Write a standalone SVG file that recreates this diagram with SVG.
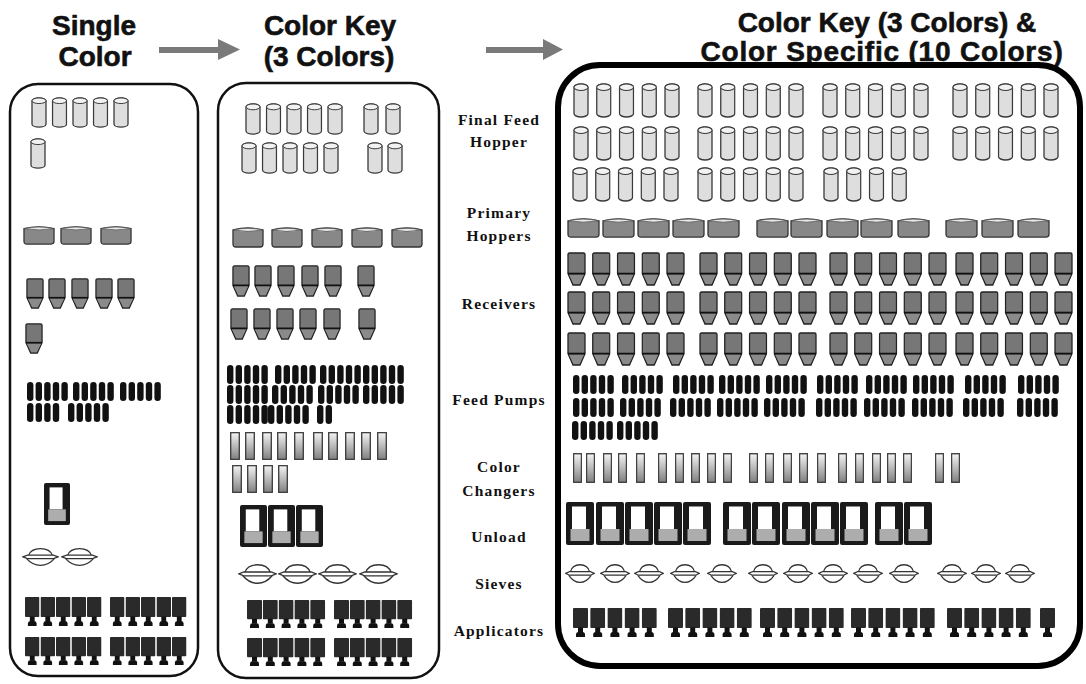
<svg xmlns="http://www.w3.org/2000/svg" xmlns:xlink="http://www.w3.org/1999/xlink" width="1086" height="684" viewBox="0 0 1086 684">
<style>
.ttl{font-family:"Liberation Sans",Arial,sans-serif;font-weight:bold;font-size:28px;fill:#111;stroke:#111;stroke-width:0.6;text-anchor:middle}
.lbl{font-family:"Liberation Serif","Times New Roman",serif;font-weight:bold;font-size:15.5px;letter-spacing:1.2px;fill:#111;text-anchor:middle}
.pnl{fill:none;stroke:#111;stroke-width:2.5}
.pnl3{fill:none;stroke:#000;stroke-width:6}
.arr{fill:#7a7a7a}
</style>
<defs>
<linearGradient id="ccg" x1="0" y1="0" x2="0" y2="1">
<stop offset="0" stop-color="#f4f4f4"/><stop offset="1" stop-color="#808080"/>
</linearGradient>
<symbol id="cyl" viewBox="0 0 16 33" preserveAspectRatio="none">
<path d="M1,4 A7,3 0 0 1 15,4 V29 A7,3 0 0 1 1,29 Z" fill="#dedede" stroke="#3a3a3a" stroke-width="1.3"/>
<path d="M1,4 A7,3 0 0 1 15,4 A7,3 0 0 1 1,4 Z" fill="#f2f2f2" stroke="#3a3a3a" stroke-width="1"/>
</symbol>
<symbol id="hop" viewBox="0 0 33 23" preserveAspectRatio="none">
<path d="M1,5 Q16.5,1 32,5 V19 Q32,22 29,22 H4 Q1,22 1,19 Z" fill="#888" stroke="#333" stroke-width="1.3"/>
<path d="M1.5,5 Q16.5,1.5 31.5,5 Q16.5,8 1.5,5 Z" fill="#e8e8e8" stroke="#555" stroke-width="0.8"/>
</symbol>
<symbol id="rec" viewBox="0 0 19 33" preserveAspectRatio="none">
<path d="M1,2.5 Q1,1 2.5,1 H16.5 Q18,1 18,2.5 V21 L13,32 H6 L1,21 Z" fill="#777" stroke="#222" stroke-width="1.3"/>
<path d="M2,22 H17 L12.4,31 H6.6 Z" fill="#8a8a8a"/>
<path d="M1,21 H18" stroke="#111" stroke-width="1.8"/>
</symbol>
<symbol id="cc" viewBox="0 0 10 29" preserveAspectRatio="none">
<rect x="0.7" y="0.7" width="8.6" height="27.6" fill="url(#ccg)" stroke="#3a3a3a" stroke-width="1.3"/>
</symbol>
<symbol id="unl" viewBox="0 0 28 43" preserveAspectRatio="none">
<rect x="0" y="0" width="28" height="43" rx="2" fill="#1a1a1a"/>
<rect x="6" y="4.5" width="14" height="22.5" fill="#fff"/>
<rect x="4.5" y="27" width="19" height="12" fill="#adadad"/>
</symbol>
<symbol id="sv" viewBox="0 0 40 20" preserveAspectRatio="none">
<path d="M7,8.5 C9,2.5 14,0.8 20,0.8 C26,0.8 31,2.5 33,8.5" fill="#fff" stroke="#333" stroke-width="1.4"/>
<path d="M5,11.8 C9,16.5 14,19.3 20,19.3 C26,19.3 31,16.5 35,11.8" fill="#fff" stroke="#333" stroke-width="1.4"/>
<path d="M0.8,9.9 L6,8 H34 L39.2,9.9 L34,11.8 H6 Z" fill="#fff" stroke="#333" stroke-width="1.3"/>
</symbol>
<symbol id="ap" viewBox="0 0 15 29" preserveAspectRatio="none">
<rect x="0" y="0" width="15" height="20" rx="1" fill="#2a2a2a"/>
<rect x="5" y="19.5" width="5" height="5" fill="#111"/>
<path d="M3,29 V26.5 Q3,24 5.5,24 H9.5 Q12,24 12,26.5 V29 Z" fill="#111"/>
</symbol>
<g id="p2"><rect x="0" y="0" width="6.4" height="19" rx="3.2" fill="#111"/><rect x="8.6" y="0" width="6.4" height="19" rx="3.2" fill="#111"/></g>
<g id="p4"><use href="#p2"/><use href="#p2" x="17.2"/></g>
<g id="p5"><use href="#p4"/><rect x="34.4" y="0" width="6.4" height="19" rx="3.2" fill="#111"/></g>
</defs>

<g id="titles">
<g id="title-single"><text class="ttl" x="94" y="35">Single</text><text class="ttl" x="95" y="66">Color</text></g>
<g id="title-colorkey"><text class="ttl" x="330" y="35">Color Key</text><text class="ttl" x="329" y="66">(3 Colors)</text></g>
<g id="title-specific"><text class="ttl" x="887" y="32">Color Key (3 Colors) &amp;</text><text class="ttl" x="882" y="61" style="letter-spacing:0.8px">Color Specific (10 Colors)</text></g>
</g>

<g id="connectors">
<path class="arr" d="M159,47 H218 V39 L240,49.5 L218,60 V53 H159 Z"/>
<path class="arr" d="M486,47 H543 V39 L563,49.5 L543,60 V53 H486 Z"/>
</g>

<g id="labels">
<g id="lbl-ffh"><text class="lbl" x="499" y="125">Final Feed</text><text class="lbl" x="499" y="147">Hopper</text></g>
<g id="lbl-ph"><text class="lbl" x="499" y="218">Primary</text><text class="lbl" x="499" y="241">Hoppers</text></g>
<g id="lbl-rec"><text class="lbl" x="499" y="309">Receivers</text></g>
<g id="lbl-fp"><text class="lbl" x="499" y="405">Feed Pumps</text></g>
<g id="lbl-cc"><text class="lbl" x="499" y="472">Color</text><text class="lbl" x="499" y="496">Changers</text></g>
<g id="lbl-unl"><text class="lbl" x="499" y="542">Unload</text></g>
<g id="lbl-sv"><text class="lbl" x="499" y="589">Sieves</text></g>
<g id="lbl-ap"><text class="lbl" x="499" y="636">Applicators</text></g>
</g>

<g id="panel-single">
<rect class="pnl" x="10" y="84" width="188" height="592" rx="28"/>
<use href="#cyl" x="31" y="97" width="16" height="31"/><use href="#cyl" x="51.5" y="97" width="16" height="31"/><use href="#cyl" x="72" y="97" width="16" height="31"/><use href="#cyl" x="92.5" y="97" width="16" height="31"/><use href="#cyl" x="113" y="97" width="16" height="31"/>
<use href="#cyl" x="30" y="138" width="16" height="31"/>
<use href="#hop" x="23" y="224" width="32" height="21"/><use href="#hop" x="60" y="224" width="32" height="21"/><use href="#hop" x="100" y="224" width="32" height="21"/>
<use href="#rec" x="26" y="278" width="18" height="31"/><use href="#rec" x="48" y="278" width="18" height="31"/><use href="#rec" x="71" y="278" width="18" height="31"/><use href="#rec" x="95" y="278" width="18" height="31"/><use href="#rec" x="117" y="278" width="18" height="31"/>
<use href="#rec" x="25" y="323" width="18" height="31"/>
<use href="#p5" x="27" y="382"/><use href="#p5" x="73" y="382"/><use href="#p5" x="120" y="382"/>
<use href="#p4" x="27" y="403"/><use href="#p5" x="68" y="403"/>
<use href="#unl" x="44" y="483" width="26" height="42"/>
<use href="#sv" x="22" y="548" width="37" height="18"/><use href="#sv" x="61" y="548" width="37" height="18"/>
<use href="#ap" x="25" y="597" width="14.5" height="29"/><use href="#ap" x="40.5" y="597" width="14.5" height="29"/><use href="#ap" x="56" y="597" width="14.5" height="29"/><use href="#ap" x="71.5" y="597" width="14.5" height="29"/><use href="#ap" x="87" y="597" width="14.5" height="29"/>
<use href="#ap" x="110" y="597" width="14.5" height="29"/><use href="#ap" x="125.5" y="597" width="14.5" height="29"/><use href="#ap" x="141" y="597" width="14.5" height="29"/><use href="#ap" x="156.5" y="597" width="14.5" height="29"/><use href="#ap" x="172" y="597" width="14.5" height="29"/>
<use href="#ap" x="25" y="637" width="14.5" height="28"/><use href="#ap" x="40.5" y="637" width="14.5" height="28"/><use href="#ap" x="56" y="637" width="14.5" height="28"/><use href="#ap" x="71.5" y="637" width="14.5" height="28"/><use href="#ap" x="87" y="637" width="14.5" height="28"/>
<use href="#ap" x="110" y="637" width="14.5" height="28"/><use href="#ap" x="125.5" y="637" width="14.5" height="28"/><use href="#ap" x="141" y="637" width="14.5" height="28"/><use href="#ap" x="156.5" y="637" width="14.5" height="28"/><use href="#ap" x="172" y="637" width="14.5" height="28"/>
</g>

<g id="panel-colorkey">
<rect class="pnl" x="218" y="83" width="221" height="595" rx="28"/>
<use href="#cyl" x="245" y="103" width="16" height="32"/><use href="#cyl" x="265.5" y="103" width="16" height="32"/><use href="#cyl" x="286" y="103" width="16" height="32"/><use href="#cyl" x="306.5" y="103" width="16" height="32"/><use href="#cyl" x="327" y="103" width="16" height="32"/>
<use href="#cyl" x="363" y="103" width="16" height="32"/><use href="#cyl" x="385" y="103" width="16" height="32"/>
<use href="#cyl" x="241" y="142" width="16" height="32"/><use href="#cyl" x="261.5" y="142" width="16" height="32"/><use href="#cyl" x="282" y="142" width="16" height="32"/><use href="#cyl" x="302.5" y="142" width="16" height="32"/><use href="#cyl" x="323" y="142" width="16" height="32"/>
<use href="#cyl" x="367" y="142" width="16" height="32"/><use href="#cyl" x="387" y="142" width="16" height="32"/>
<use href="#hop" x="232" y="225" width="32" height="23"/><use href="#hop" x="271" y="225" width="32" height="23"/><use href="#hop" x="311" y="225" width="32" height="23"/><use href="#hop" x="351" y="225" width="32" height="23"/><use href="#hop" x="391" y="225" width="32" height="23"/>
<use href="#rec" x="232" y="265" width="18" height="32"/><use href="#rec" x="254" y="265" width="18" height="32"/><use href="#rec" x="277" y="265" width="18" height="32"/><use href="#rec" x="301" y="265" width="18" height="32"/><use href="#rec" x="324" y="265" width="18" height="32"/><use href="#rec" x="357" y="265" width="18" height="32"/>
<use href="#rec" x="230" y="308" width="18" height="32"/><use href="#rec" x="253" y="308" width="18" height="32"/><use href="#rec" x="276" y="308" width="18" height="32"/><use href="#rec" x="299" y="308" width="18" height="32"/><use href="#rec" x="323" y="308" width="18" height="32"/><use href="#rec" x="358" y="308" width="18" height="32"/>
<use href="#p5" x="227" y="365"/><use href="#p5" x="275" y="365"/><use href="#p5" x="320" y="365"/><use href="#p5" x="363" y="365"/>
<use href="#p5" x="227" y="385"/><use href="#p5" x="272" y="385"/><use href="#p5" x="318" y="385"/><use href="#p5" x="363" y="385"/>
<use href="#p5" x="227" y="405"/><use href="#p5" x="268" y="405"/><use href="#p2" x="317" y="405"/>
<use href="#cc" x="230" y="432" width="10" height="28"/><use href="#cc" x="245" y="432" width="10" height="28"/><use href="#cc" x="262" y="432" width="10" height="28"/><use href="#cc" x="277" y="432" width="10" height="28"/><use href="#cc" x="294" y="432" width="10" height="28"/><use href="#cc" x="313" y="432" width="10" height="28"/><use href="#cc" x="328" y="432" width="10" height="28"/><use href="#cc" x="345" y="432" width="10" height="28"/><use href="#cc" x="361" y="432" width="10" height="28"/><use href="#cc" x="377" y="432" width="10" height="28"/>
<use href="#cc" x="232" y="465" width="10" height="28"/><use href="#cc" x="247" y="465" width="10" height="28"/><use href="#cc" x="263" y="465" width="10" height="28"/><use href="#cc" x="278" y="465" width="10" height="28"/>
<use href="#unl" x="240" y="505" width="27" height="42"/><use href="#unl" x="268" y="505" width="27" height="42"/><use href="#unl" x="296" y="505" width="27" height="42"/>
<use href="#sv" x="238" y="564" width="39" height="20"/><use href="#sv" x="278" y="564" width="39" height="20"/><use href="#sv" x="318" y="564" width="39" height="20"/><use href="#sv" x="359" y="564" width="39" height="20"/>
<use href="#ap" x="247" y="600" width="15" height="28"/><use href="#ap" x="262.8" y="600" width="15" height="28"/><use href="#ap" x="278.6" y="600" width="15" height="28"/><use href="#ap" x="294.4" y="600" width="15" height="28"/><use href="#ap" x="310.2" y="600" width="15" height="28"/>
<use href="#ap" x="334" y="600" width="15" height="28"/><use href="#ap" x="349.8" y="600" width="15" height="28"/><use href="#ap" x="365.6" y="600" width="15" height="28"/><use href="#ap" x="381.4" y="600" width="15" height="28"/><use href="#ap" x="397.2" y="600" width="15" height="28"/>
<use href="#ap" x="247" y="638" width="15" height="28"/><use href="#ap" x="262.8" y="638" width="15" height="28"/><use href="#ap" x="278.6" y="638" width="15" height="28"/><use href="#ap" x="294.4" y="638" width="15" height="28"/><use href="#ap" x="310.2" y="638" width="15" height="28"/>
<use href="#ap" x="334" y="638" width="15" height="28"/><use href="#ap" x="349.8" y="638" width="15" height="28"/><use href="#ap" x="365.6" y="638" width="15" height="28"/><use href="#ap" x="381.4" y="638" width="15" height="28"/><use href="#ap" x="397.2" y="638" width="15" height="28"/>
</g>

<g id="panel-specific">
<rect class="pnl3" x="558" y="65" width="522" height="601" rx="42"/>
<g id="p3-cyl">
<use href="#cyl" x="573" y="83" width="16" height="35"/><use href="#cyl" x="595.75" y="83" width="16" height="35"/><use href="#cyl" x="618.5" y="83" width="16" height="35"/><use href="#cyl" x="641.25" y="83" width="16" height="35"/><use href="#cyl" x="664" y="83" width="16" height="35"/>
<use href="#cyl" x="697" y="83" width="16" height="35"/><use href="#cyl" x="719.75" y="83" width="16" height="35"/><use href="#cyl" x="742.5" y="83" width="16" height="35"/><use href="#cyl" x="765.25" y="83" width="16" height="35"/><use href="#cyl" x="788" y="83" width="16" height="35"/>
<use href="#cyl" x="822" y="83" width="16" height="35"/><use href="#cyl" x="844.75" y="83" width="16" height="35"/><use href="#cyl" x="867.5" y="83" width="16" height="35"/><use href="#cyl" x="890.25" y="83" width="16" height="35"/><use href="#cyl" x="913" y="83" width="16" height="35"/>
<use href="#cyl" x="952" y="83" width="16" height="35"/><use href="#cyl" x="974.75" y="83" width="16" height="35"/><use href="#cyl" x="997.5" y="83" width="16" height="35"/><use href="#cyl" x="1020.25" y="83" width="16" height="35"/><use href="#cyl" x="1043" y="83" width="16" height="35"/>
<use href="#cyl" x="573" y="126" width="16" height="35"/><use href="#cyl" x="595.75" y="126" width="16" height="35"/><use href="#cyl" x="618.5" y="126" width="16" height="35"/><use href="#cyl" x="641.25" y="126" width="16" height="35"/><use href="#cyl" x="664" y="126" width="16" height="35"/>
<use href="#cyl" x="697" y="126" width="16" height="35"/><use href="#cyl" x="719.75" y="126" width="16" height="35"/><use href="#cyl" x="742.5" y="126" width="16" height="35"/><use href="#cyl" x="765.25" y="126" width="16" height="35"/><use href="#cyl" x="788" y="126" width="16" height="35"/>
<use href="#cyl" x="822" y="126" width="16" height="35"/><use href="#cyl" x="844.75" y="126" width="16" height="35"/><use href="#cyl" x="867.5" y="126" width="16" height="35"/><use href="#cyl" x="890.25" y="126" width="16" height="35"/><use href="#cyl" x="913" y="126" width="16" height="35"/>
<use href="#cyl" x="952" y="126" width="16" height="35"/><use href="#cyl" x="974.75" y="126" width="16" height="35"/><use href="#cyl" x="997.5" y="126" width="16" height="35"/><use href="#cyl" x="1020.25" y="126" width="16" height="35"/><use href="#cyl" x="1043" y="126" width="16" height="35"/>
<use href="#cyl" x="572" y="167" width="16" height="35"/><use href="#cyl" x="594.75" y="167" width="16" height="35"/><use href="#cyl" x="617.5" y="167" width="16" height="35"/><use href="#cyl" x="640.25" y="167" width="16" height="35"/><use href="#cyl" x="663" y="167" width="16" height="35"/>
<use href="#cyl" x="697" y="167" width="16" height="35"/><use href="#cyl" x="719.75" y="167" width="16" height="35"/><use href="#cyl" x="742.5" y="167" width="16" height="35"/><use href="#cyl" x="765.25" y="167" width="16" height="35"/><use href="#cyl" x="788" y="167" width="16" height="35"/>
<use href="#cyl" x="823" y="167" width="16" height="35"/><use href="#cyl" x="845.75" y="167" width="16" height="35"/><use href="#cyl" x="868.5" y="167" width="16" height="35"/><use href="#cyl" x="891.25" y="167" width="16" height="35"/>
</g>
<g id="p3-hop">
<use href="#hop" x="567" y="216" width="33" height="22"/><use href="#hop" x="602" y="216" width="33" height="22"/><use href="#hop" x="637" y="216" width="33" height="22"/><use href="#hop" x="672" y="216" width="33" height="22"/><use href="#hop" x="707" y="216" width="33" height="22"/>
<use href="#hop" x="756" y="216" width="33" height="22"/><use href="#hop" x="790" y="216" width="33" height="22"/><use href="#hop" x="826" y="216" width="33" height="22"/><use href="#hop" x="860" y="216" width="33" height="22"/><use href="#hop" x="897" y="216" width="33" height="22"/>
<use href="#hop" x="945" y="216" width="33" height="22"/><use href="#hop" x="981" y="216" width="33" height="22"/><use href="#hop" x="1017" y="216" width="33" height="22"/>
</g>
<g id="p3-rec">
<use href="#rec" x="567" y="252" width="19" height="34"/><use href="#rec" x="591.75" y="252" width="19" height="34"/><use href="#rec" x="616.5" y="252" width="19" height="34"/><use href="#rec" x="641.25" y="252" width="19" height="34"/><use href="#rec" x="666" y="252" width="19" height="34"/>
<use href="#rec" x="699" y="252" width="19" height="34"/><use href="#rec" x="723.75" y="252" width="19" height="34"/><use href="#rec" x="748.5" y="252" width="19" height="34"/><use href="#rec" x="773.25" y="252" width="19" height="34"/><use href="#rec" x="798" y="252" width="19" height="34"/>
<use href="#rec" x="829" y="252" width="19" height="34"/><use href="#rec" x="853.75" y="252" width="19" height="34"/><use href="#rec" x="878.5" y="252" width="19" height="34"/><use href="#rec" x="903.25" y="252" width="19" height="34"/><use href="#rec" x="928" y="252" width="19" height="34"/>
<use href="#rec" x="955" y="252" width="19" height="34"/><use href="#rec" x="979.75" y="252" width="19" height="34"/><use href="#rec" x="1004.5" y="252" width="19" height="34"/><use href="#rec" x="1029.25" y="252" width="19" height="34"/><use href="#rec" x="1054" y="252" width="19" height="34"/>
<use href="#rec" x="567" y="291" width="19" height="34"/><use href="#rec" x="591.75" y="291" width="19" height="34"/><use href="#rec" x="616.5" y="291" width="19" height="34"/><use href="#rec" x="641.25" y="291" width="19" height="34"/><use href="#rec" x="666" y="291" width="19" height="34"/>
<use href="#rec" x="699" y="291" width="19" height="34"/><use href="#rec" x="723.75" y="291" width="19" height="34"/><use href="#rec" x="748.5" y="291" width="19" height="34"/><use href="#rec" x="773.25" y="291" width="19" height="34"/><use href="#rec" x="798" y="291" width="19" height="34"/>
<use href="#rec" x="829" y="291" width="19" height="34"/><use href="#rec" x="853.75" y="291" width="19" height="34"/><use href="#rec" x="878.5" y="291" width="19" height="34"/><use href="#rec" x="903.25" y="291" width="19" height="34"/><use href="#rec" x="928" y="291" width="19" height="34"/>
<use href="#rec" x="955" y="291" width="19" height="34"/><use href="#rec" x="979.75" y="291" width="19" height="34"/><use href="#rec" x="1004.5" y="291" width="19" height="34"/><use href="#rec" x="1029.25" y="291" width="19" height="34"/><use href="#rec" x="1054" y="291" width="19" height="34"/>
<use href="#rec" x="567" y="332" width="19" height="34"/><use href="#rec" x="591.75" y="332" width="19" height="34"/><use href="#rec" x="616.5" y="332" width="19" height="34"/><use href="#rec" x="641.25" y="332" width="19" height="34"/><use href="#rec" x="666" y="332" width="19" height="34"/>
<use href="#rec" x="699" y="332" width="19" height="34"/><use href="#rec" x="723.75" y="332" width="19" height="34"/><use href="#rec" x="748.5" y="332" width="19" height="34"/><use href="#rec" x="773.25" y="332" width="19" height="34"/><use href="#rec" x="798" y="332" width="19" height="34"/>
<use href="#rec" x="829" y="332" width="19" height="34"/><use href="#rec" x="853.75" y="332" width="19" height="34"/><use href="#rec" x="878.5" y="332" width="19" height="34"/><use href="#rec" x="903.25" y="332" width="19" height="34"/><use href="#rec" x="928" y="332" width="19" height="34"/>
<use href="#rec" x="955" y="332" width="19" height="34"/><use href="#rec" x="979.75" y="332" width="19" height="34"/><use href="#rec" x="1004.5" y="332" width="19" height="34"/><use href="#rec" x="1029.25" y="332" width="19" height="34"/><use href="#rec" x="1054" y="332" width="19" height="34"/>
</g>
<g id="p3-pumps">
<use href="#p5" x="573" y="375"/><use href="#p5" x="622" y="375"/><use href="#p5" x="673" y="375"/><use href="#p5" x="719" y="375"/><use href="#p5" x="766" y="375"/><use href="#p5" x="817" y="375"/><use href="#p5" x="866" y="375"/><use href="#p5" x="913" y="375"/><use href="#p5" x="965" y="375"/><use href="#p5" x="1018" y="375"/>
<use href="#p5" x="573" y="398"/><use href="#p5" x="620" y="398"/><use href="#p5" x="670" y="398"/><use href="#p5" x="717" y="398"/><use href="#p5" x="764" y="398"/><use href="#p5" x="816" y="398"/><use href="#p5" x="864" y="398"/><use href="#p5" x="912" y="398"/><use href="#p5" x="963" y="398"/><use href="#p5" x="1017" y="398"/>
<use href="#p5" x="572" y="421"/><use href="#p5" x="617" y="421"/>
</g>
<g id="p3-cc">
<use href="#cc" x="573" y="453" width="9" height="30"/><use href="#cc" x="586" y="453" width="9" height="30"/><use href="#cc" x="603" y="453" width="9" height="30"/><use href="#cc" x="618" y="453" width="9" height="30"/><use href="#cc" x="636" y="453" width="9" height="30"/><use href="#cc" x="658" y="453" width="9" height="30"/><use href="#cc" x="675" y="453" width="9" height="30"/><use href="#cc" x="691" y="453" width="9" height="30"/><use href="#cc" x="707" y="453" width="9" height="30"/><use href="#cc" x="723" y="453" width="9" height="30"/>
<use href="#cc" x="749" y="453" width="9" height="30"/><use href="#cc" x="765" y="453" width="9" height="30"/><use href="#cc" x="783" y="453" width="9" height="30"/><use href="#cc" x="799" y="453" width="9" height="30"/><use href="#cc" x="817" y="453" width="9" height="30"/><use href="#cc" x="838" y="453" width="9" height="30"/><use href="#cc" x="855" y="453" width="9" height="30"/><use href="#cc" x="872" y="453" width="9" height="30"/><use href="#cc" x="887" y="453" width="9" height="30"/><use href="#cc" x="903" y="453" width="9" height="30"/>
<use href="#cc" x="935" y="453" width="9" height="30"/><use href="#cc" x="951" y="453" width="9" height="30"/>
</g>
<g id="p3-unl">
<use href="#unl" x="566" y="502" width="28" height="43"/><use href="#unl" x="596" y="502" width="28" height="43"/><use href="#unl" x="625" y="502" width="28" height="43"/><use href="#unl" x="654" y="502" width="28" height="43"/><use href="#unl" x="683" y="502" width="28" height="43"/>
<use href="#unl" x="723" y="502" width="28" height="43"/><use href="#unl" x="752" y="502" width="28" height="43"/><use href="#unl" x="782" y="502" width="28" height="43"/><use href="#unl" x="811" y="502" width="28" height="43"/><use href="#unl" x="840" y="502" width="28" height="43"/>
<use href="#unl" x="875" y="502" width="28" height="43"/><use href="#unl" x="904" y="502" width="28" height="43"/>
</g>
<g id="p3-sv">
<use href="#sv" x="565" y="564" width="30" height="19"/><use href="#sv" x="600" y="564" width="30" height="19"/><use href="#sv" x="634" y="564" width="30" height="19"/><use href="#sv" x="670" y="564" width="30" height="19"/><use href="#sv" x="707" y="564" width="30" height="19"/>
<use href="#sv" x="748" y="564" width="30" height="19"/><use href="#sv" x="783" y="564" width="30" height="19"/><use href="#sv" x="818" y="564" width="30" height="19"/><use href="#sv" x="853" y="564" width="30" height="19"/><use href="#sv" x="889" y="564" width="30" height="19"/>
<use href="#sv" x="937" y="564" width="30" height="19"/><use href="#sv" x="971" y="564" width="30" height="19"/><use href="#sv" x="1005" y="564" width="30" height="19"/>
</g>
<g id="p3-ap">
<use href="#ap" x="573" y="608" width="15" height="29"/><use href="#ap" x="590.2" y="608" width="15" height="29"/><use href="#ap" x="607.4" y="608" width="15" height="29"/><use href="#ap" x="624.6" y="608" width="15" height="29"/><use href="#ap" x="641.8" y="608" width="15" height="29"/>
<use href="#ap" x="668" y="608" width="15" height="29"/><use href="#ap" x="685.2" y="608" width="15" height="29"/><use href="#ap" x="702.4" y="608" width="15" height="29"/><use href="#ap" x="719.6" y="608" width="15" height="29"/><use href="#ap" x="736.8" y="608" width="15" height="29"/>
<use href="#ap" x="760" y="608" width="15" height="29"/><use href="#ap" x="777.2" y="608" width="15" height="29"/><use href="#ap" x="794.4" y="608" width="15" height="29"/><use href="#ap" x="811.6" y="608" width="15" height="29"/><use href="#ap" x="828.8" y="608" width="15" height="29"/>
<use href="#ap" x="851" y="608" width="15" height="29"/><use href="#ap" x="868.2" y="608" width="15" height="29"/><use href="#ap" x="885.4" y="608" width="15" height="29"/><use href="#ap" x="902.6" y="608" width="15" height="29"/><use href="#ap" x="919.8" y="608" width="15" height="29"/>
<use href="#ap" x="947" y="608" width="15" height="29"/><use href="#ap" x="964.2" y="608" width="15" height="29"/><use href="#ap" x="981.4" y="608" width="15" height="29"/><use href="#ap" x="998.6" y="608" width="15" height="29"/><use href="#ap" x="1015.8" y="608" width="15" height="29"/>
<use href="#ap" x="1040" y="608" width="15" height="29"/>
</g>
</g>
</svg>
